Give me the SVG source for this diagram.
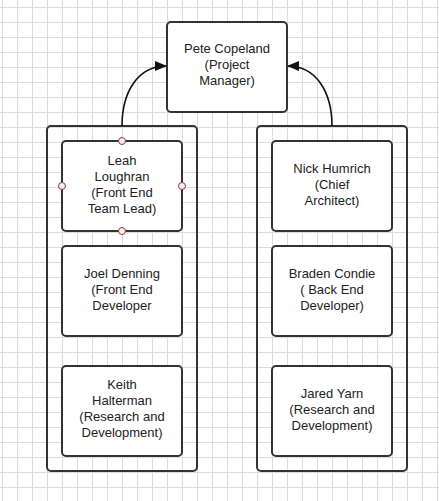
<svg xmlns="http://www.w3.org/2000/svg" width="439" height="501" viewBox="0 0 439 501">
<defs>
<pattern id="grid" x="2" y="7" width="15" height="15" patternUnits="userSpaceOnUse">
<path d="M0.5,0 V15 M0,0.5 H15" fill="none" stroke="#dcdcdc" stroke-width="1"/>
</pattern>
<marker id="ah" markerWidth="12" markerHeight="10" refX="11" refY="5" orient="auto" markerUnits="userSpaceOnUse">
<path d="M0,0 L12,5 L0,10 Z" fill="#111"/>
</marker>
<style>
.box{fill:#fff;stroke:#333;stroke-width:2}
.cont{fill:none;stroke:#333;stroke-width:2}
.t{font-family:"Liberation Sans",Arial,sans-serif;font-size:13px;fill:#222;text-anchor:middle}
.conn{fill:none;stroke:#111;stroke-width:1.6}
.h{fill:#fbeeee;stroke:#8a3c3c;stroke-width:1}
</style>
</defs>
<rect x="0" y="0" width="439" height="501" fill="#fff"/>
<rect x="0" y="0" width="439" height="501" fill="url(#grid)"/>
<g id="left-team"><rect class="cont" x="47" y="126" width="150" height="345" rx="4"/></g>
<g id="right-team"><rect class="cont" x="257" y="126" width="150" height="345" rx="4"/></g>
<g id="pete"><rect class="box" x="167" y="22" width="120" height="90" rx="4"/>
<text class="t" x="227" y="53">Pete Copeland</text><text class="t" x="227" y="69">(Project</text><text class="t" x="227" y="85">Manager)</text></g>
<g id="leah"><rect class="box" x="62" y="141" width="120" height="90" rx="4"/>
<text class="t" x="122" y="165">Leah</text><text class="t" x="122" y="181">Loughran</text><text class="t" x="122" y="197">(Front End</text><text class="t" x="122" y="213">Team Lead)</text>
<circle class="h" cx="122" cy="141" r="3.5"/><circle class="h" cx="62" cy="186" r="3.5"/><circle class="h" cx="182" cy="186" r="3.5"/><circle class="h" cx="122" cy="231" r="3.5"/></g>
<g id="joel"><rect class="box" x="62" y="246" width="120" height="90" rx="4"/>
<text class="t" x="122" y="278">Joel Denning</text><text class="t" x="122" y="294">(Front End</text><text class="t" x="122" y="310">Developer</text></g>
<g id="keith"><rect class="box" x="62" y="366" width="120" height="90" rx="4"/>
<text class="t" x="122" y="389">Keith</text><text class="t" x="122" y="405">Halterman</text><text class="t" x="122" y="421">(Research and</text><text class="t" x="122" y="437">Development)</text></g>
<g id="nick"><rect class="box" x="272" y="141" width="120" height="90" rx="4"/>
<text class="t" x="332" y="173">Nick Humrich</text><text class="t" x="332" y="189">(Chief</text><text class="t" x="332" y="205">Architect)</text></g>
<g id="braden"><rect class="box" x="272" y="246" width="120" height="90" rx="4"/>
<text class="t" x="332" y="278">Braden Condie</text><text class="t" x="332" y="294">( Back End</text><text class="t" x="332" y="310">Developer)</text></g>
<g id="jared"><rect class="box" x="272" y="366" width="120" height="90" rx="4"/>
<text class="t" x="332" y="398">Jared Yarn</text><text class="t" x="332" y="414">(Research and</text><text class="t" x="332" y="430">Development)</text></g>
<g id="connectors">
<path class="conn" d="M122,126 C122,92 138,66 166,66" marker-end="url(#ah)"/>
<path class="conn" d="M332,126 C332,92 316,66 288,66" marker-end="url(#ah)"/>
</g>
</svg>
